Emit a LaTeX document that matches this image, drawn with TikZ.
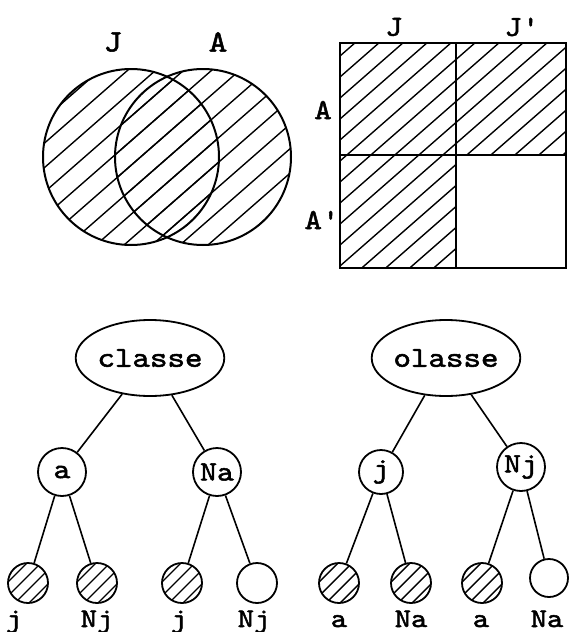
\documentclass[tikz,border=0pt]{standalone}
\usepackage{fontspec}
\newfontfamily\tw{lmmono10-regular.otf}[FakeStretch=1.15,FakeBold=1.8]
\usetikzlibrary{shapes.geometric}
\tikzset{
  hatchline/.style={line width=1.4pt},
  outline/.style={line width=2pt},
  biglab/.style={font=\tw\fontsize{31}{31}\selectfont, inner sep=0pt},
  sqlab/.style={font=\tw\fontsize{29}{29}\selectfont, inner sep=0pt},
  rootnode/.style={ellipse, draw, line width=1.8pt, minimum width=138pt, minimum height=76pt, inner sep=0pt,
    font=\tw\fontsize{29}{29}\selectfont},
  midnode/.style={circle, draw, line width=1.8pt, minimum size=48pt, inner sep=0pt,
    font=\tw\fontsize{28}{28}\selectfont},
  leafnode/.style={circle, draw, line width=1.8pt, minimum size=40pt, inner sep=0pt},
  hatchleaf/.style={leafnode, path picture={
    \foreach \i in {-21,-7,7,21}
      \draw[hatchline] ([xshift=\i pt-25pt, yshift=-25pt]path picture bounding box.center) -- ++(50pt,50pt);}},
  leaflab/.style={anchor=base, inner sep=0pt, font=\tw\fontsize{27}{27}\selectfont},
  edge/.style={line width=1.6pt}
}
\newcommand{\myhatch}[1]{\foreach \i in {-900,-#1,...,700} \draw[hatchline] (\i,700) -- (\i+800,0);}
\begin{document}
\begin{tikzpicture}[x=1pt,y=-1pt]
\useasboundingbox (0,0) rectangle (568,632);
% Venn diagram
\begin{scope}\clip (131,157) circle[radius=88pt]; \myhatch{872} \end{scope}
\begin{scope}\clip (203,157) circle[radius=88pt]; \myhatch{872} \end{scope}
\draw[outline] (131,157) circle[radius=88pt];
\draw[outline] (203,157) circle[radius=88pt];
\node[biglab] (vJ) at (113,42) {J};
\node[biglab] (vA) at (218,42) {A};
% square table
\begin{scope}\clip (340,43) rectangle (456,155); \myhatch{876} \end{scope}
\begin{scope}\clip (456,43) rectangle (566,155); \myhatch{876} \end{scope}
\begin{scope}\clip (340,155) rectangle (456,268); \myhatch{876} \end{scope}
\draw[outline] (340,43) rectangle (566,268);
\draw[outline] (456,43) -- (456,268);
\draw[outline] (340,155) -- (566,155);
\node[sqlab] (sJ) at (394,27) {J};
\node[sqlab] (sJp) at (522,27) {J'};
\node[sqlab] (sA) at (323,110) {A};
\node[sqlab] (sAp) at (322,220) {A'};
% left tree
\node[rootnode] (c1) at (150,358) {classe};
\node[midnode] (a1) at (62,472) {a};
\node[midnode] (na1) at (217,472) {Na};
\node[hatchleaf] (l1) at (28,583) {};
\node[hatchleaf] (l2) at (97,583) {};
\node[hatchleaf] (l3) at (182,583) {};
\node[leafnode] (l4) at (257,583) {};
\draw[edge] (c1) -- (a1);
\draw[edge] (c1) -- (na1);
\draw[edge] (a1) -- (l1);
\draw[edge] (a1) -- (l2);
\draw[edge] (na1) -- (l3);
\draw[edge] (na1) -- (l4);
\node[leaflab] (t1) at (14,627) {j};
\node[leaflab] (t2) at (97,627) {Nj};
\node[leaflab] (t3) at (179,627) {j};
\node[leaflab] (t4) at (254,627) {Nj};
% right tree
\node[rootnode] (c2) at (446,358) {olasse};
\node[midnode, minimum size=44pt] (j2) at (381,472) {j};
\node[midnode] (nj2) at (521,467) {Nj};
\node[hatchleaf] (r1) at (339,583) {};
\node[hatchleaf] (r2) at (411,583) {};
\node[hatchleaf] (r3) at (482,583) {};
\node[leafnode, minimum size=38pt] (r4) at (549,578) {};
\draw[edge] (c2) -- (j2);
\draw[edge] (c2) -- (nj2);
\draw[edge] (j2) -- (r1);
\draw[edge] (j2) -- (r2);
\draw[edge] (nj2) -- (r3);
\draw[edge] (nj2) -- (r4);
\node[leaflab] (u1) at (339,627) {a};
\node[leaflab] (u2) at (411,627) {Na};
\node[leaflab] (u3) at (481,627) {a};
\node[leaflab] (u4) at (547,627) {Na};
\end{tikzpicture}
\end{document}
